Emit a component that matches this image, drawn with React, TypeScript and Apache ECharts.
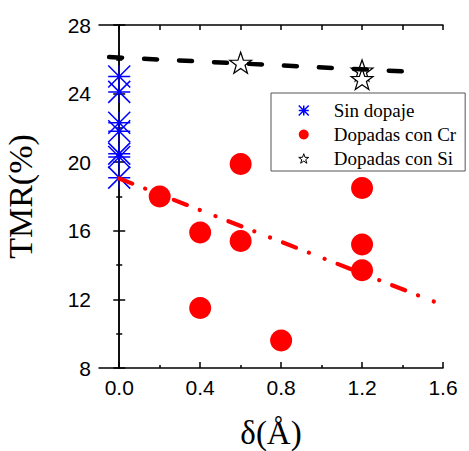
import React, { useEffect, useRef } from "react";
import * as echarts from "echarts";

// δ (Å) and TMR (%) for each sample set
const sinDopajeDelta = [0, 0, 0, 0, 0, 0, 0];
const sinDopajeTMR = [25.0, 24.1, 22.3, 21.8, 20.5, 20.3, 19.1];

const crDelta = [0.2, 0.4, 0.4, 0.6, 0.6, 0.8, 1.2, 1.2, 1.2];
const crTMR = [18.0, 15.9, 11.5, 19.9, 15.4, 9.6, 18.5, 15.2, 13.7];

const siDelta = [0.6, 1.2, 1.2];
const siTMR = [25.8, 25.35, 24.85];

// trend lines
const siFitDelta = [-0.05, 1.43];
const siFitTMR = [26.13, 25.28];
const crFitDelta = [0, 1.56];
const crFitTMR = [19.05, 11.85];

// axis ticks
const xMajorTicks = [0, 0.4, 0.8, 1.2, 1.6];
const xMinorTicks = [0.2, 0.6, 1.0, 1.4];
const xAllTicks = [0, 0.2, 0.4, 0.6, 0.8, 1.0, 1.2, 1.4, 1.6];

const ASTERISK = "path://M0,-10L0,10M-10,0L10,0M-10,-10L10,10M-10,10L10,-10";
const STAR =
  "path://M0,-10L2.351,-3.236L9.511,-3.09L3.804,1.236L5.878,8.09L0,4L-5.878,8.09L-3.804,1.236L-9.511,-3.09L-2.351,-3.236Z";

const zip = (xs: number[], ys: number[]) => xs.map((x, i) => [x, ys[i]]);

const SANS = "Liberation Sans";
const SERIF = "Liberation Serif";

const asteriskStyle = { color: "rgba(0,0,0,0)", borderColor: "#0000ff", borderWidth: 1.5, opacity: 1 };
const circleStyle = { color: "#ff0000", opacity: 1 };
const starStyle = { color: "#fff", borderColor: "#000", borderWidth: 1.2, opacity: 1 };

export default function App() {
  const ref = useRef<HTMLDivElement>(null);

  useEffect(() => {
    if (!ref.current) return;
    const chart = echarts.init(ref.current, undefined, { renderer: "svg" });

    const gridBox = {
      left: 99,
      right: 26,
      top: 25,
      bottom: 83,
      containLabel: false,
      outerBoundsMode: "none",
    };
    const axisLine = { show: true, lineStyle: { color: "#000", width: 1.5 } };
    const tickLine = { color: "#000", width: 1.5 };

    chart.setOption({
      animation: false,
      backgroundColor: "#fff",
      grid: [gridBox, { ...gridBox }],
      xAxis: [
        {
          type: "value",
          gridIndex: 0,
          position: "bottom",
          min: -0.1,
          max: 1.6,
          axisLine,
          axisTick: { inside: true, length: 6, lineStyle: tickLine, customValues: xMajorTicks },
          axisLabel: {
            customValues: xMajorTicks,
            formatter: (v: number) => v.toFixed(1),
            color: "#000",
            fontFamily: SANS,
            fontSize: 21,
            margin: 9,
          },
          splitLine: { show: false },
          name: "δ(Å)",
          nameLocation: "middle",
          nameGap: 48,
          nameTextStyle: { fontFamily: SERIF, fontSize: 33, color: "#000" },
        },
        {
          type: "value",
          gridIndex: 1,
          position: "bottom",
          min: -0.1,
          max: 1.6,
          axisLine: { show: false },
          axisTick: { inside: true, length: 3, lineStyle: tickLine, customValues: xMinorTicks },
          axisLabel: { show: false },
          splitLine: { show: false },
        },
        {
          type: "value",
          gridIndex: 1,
          position: "top",
          min: -0.1,
          max: 1.6,
          axisLine,
          axisTick: { inside: true, length: 5, lineStyle: tickLine, customValues: xAllTicks },
          axisLabel: { show: false },
          splitLine: { show: false },
        },
      ],
      yAxis: [
        {
          type: "value",
          gridIndex: 0,
          position: "left",
          min: 8,
          max: 28,
          interval: 4,
          axisLine,
          axisTick: { inside: true, length: 6, lineStyle: tickLine },
          minorTick: { show: true, splitNumber: 2, length: 3, lineStyle: tickLine },
          axisLabel: { color: "#000", fontFamily: SANS, fontSize: 21, margin: 8 },
          splitLine: { show: false },
          name: "TMR(%)",
          nameLocation: "middle",
          nameRotate: 90,
          nameGap: 62,
          nameTextStyle: { fontFamily: SERIF, fontSize: 34, color: "#000" },
        },
        {
          type: "value",
          gridIndex: 1,
          position: "right",
          min: 8,
          max: 28,
          interval: 4,
          axisLine,
          axisTick: { inside: true, length: 6, lineStyle: tickLine },
          minorTick: { show: true, splitNumber: 2, length: 3, lineStyle: tickLine },
          axisLabel: { show: false },
          splitLine: { show: false },
        },
      ],
      legend: {
        data: [
          { name: "Sin dopaje", icon: ASTERISK, itemStyle: asteriskStyle },
          { name: "Dopadas con Cr", icon: "circle", itemStyle: circleStyle },
          { name: "Dopadas con Si", icon: STAR, itemStyle: { ...starStyle, borderWidth: 1 } },
        ],
        orient: "vertical",
        left: 271,
        top: 93,
        padding: [8, 9, 3, 27],
        itemWidth: 10,
        itemHeight: 10,
        itemGap: 5,
        backgroundColor: "#fff",
        borderColor: "#555",
        borderWidth: 1,
        textStyle: {
          fontFamily: SERIF,
          fontSize: 19,
          lineHeight: 19,
          color: "#000",
          padding: [0, 0, 0, 20],
        },
      },
      series: [
        {
          name: "Sin dopaje",
          type: "scatter",
          xAxisIndex: 0,
          yAxisIndex: 0,
          symbol: ASTERISK,
          symbolSize: 22,
          itemStyle: asteriskStyle,
          data: zip(sinDopajeDelta, sinDopajeTMR),
          z: 2,
        },
        {
          name: "Dopadas con Cr",
          type: "scatter",
          xAxisIndex: 0,
          yAxisIndex: 0,
          symbol: "circle",
          symbolSize: 22,
          itemStyle: circleStyle,
          data: zip(crDelta, crTMR),
          z: 2,
        },
        {
          name: "Dopadas con Si",
          type: "scatter",
          xAxisIndex: 0,
          yAxisIndex: 0,
          symbol: STAR,
          symbolSize: [22, 21],
          itemStyle: starStyle,
          data: zip(siDelta, siTMR),
          z: 2,
        },
        {
          type: "line",
          xAxisIndex: 0,
          yAxisIndex: 0,
          symbol: "none",
          silent: true,
          lineStyle: { color: "#000", width: 4.5, type: [13, 22], cap: "round" },
          data: zip(siFitDelta, siFitTMR),
          z: 3,
        },
        {
          type: "line",
          xAxisIndex: 0,
          yAxisIndex: 0,
          symbol: "none",
          silent: true,
          lineStyle: {
            color: "#ff0000",
            width: 4.2,
            type: [14, 13.8, 0.1, 16.8, 0.1, 13.8],
            cap: "round",
          },
          data: zip(crFitDelta, crFitTMR),
          z: 3,
        },
      ],
    });

    return () => chart.dispose();
  }, []);

  return (
    <div
      ref={ref}
      style={{ position: "fixed", left: 0, top: 0, width: 469, height: 451 }}
    />
  );
}
